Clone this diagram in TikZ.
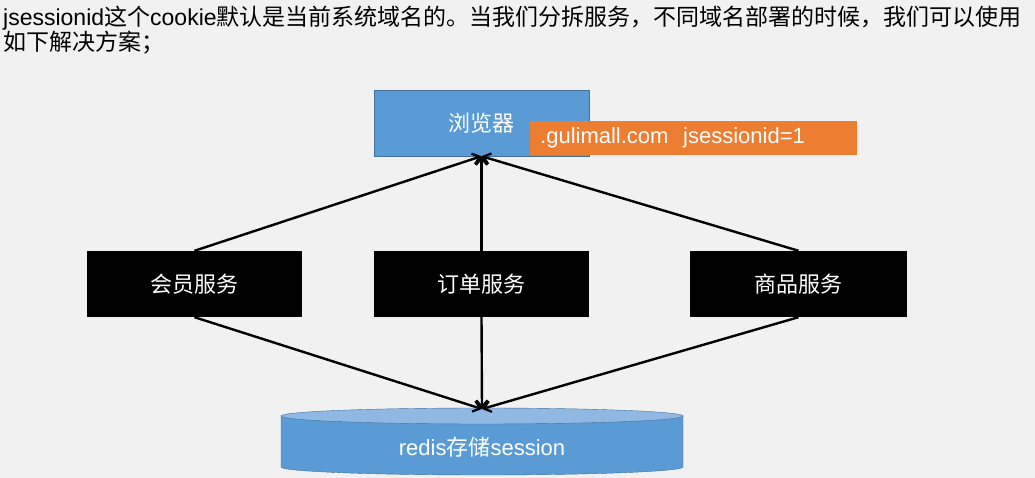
\documentclass[tikz,border=0pt]{standalone}
\usepackage{fontspec}
\setmainfont{Liberation Sans}
\newfontfamily\cjk{Noto Sans CJK SC}
\usetikzlibrary{positioning,arrows.meta}
\definecolor{pagegray}{HTML}{F1F1F1}
\definecolor{boxblue}{HTML}{5B9BD5}
\definecolor{blueedge}{HTML}{41719C}
\definecolor{cyltop}{HTML}{8FB9E3}
\definecolor{cookieorange}{HTML}{ED7D31}

\begin{document}
\begin{tikzpicture}[x=1pt,y=1pt,
						titletext/.style={anchor=base west, inner sep=0pt, font=\fontsize{23}{25}\selectfont},
						browserbox/.style={draw=blueedge, fill=boxblue, minimum width=215pt, minimum height=66pt, text=white, font=\fontsize{22}{22}\cjk},
						servicebox/.style={fill=black, minimum width=215pt, minimum height=66pt, text=white, font=\fontsize{22}{22}\cjk},
						cookiebox/.style={fill=cookieorange, inner xsep=10pt, text width=307pt, align=left, minimum height=34pt, text=white, font=\fontsize{22}{22}\selectfont},
						link/.style={->, line width=2.4pt},
						>={Straight Barb[length=7pt, width=11pt, line width=2.2pt]}]
					\useasboundingbox[fill=pagegray] (0,0) rectangle (1035,478);
					\node[titletext] (title1) at (3,452)
						{jsessionid{\cjk 这个}cookie{\cjk 默认是当前系统域名的。当我们分拆服务，不同域名部署的时候，我们可以使用}};
					\node[titletext] (title2) at (3,427) {\cjk 如下解决方案；};
					
					\node[browserbox] (browser) at (481.5,355) {浏览器};
					\node[cookiebox, anchor=west] (cookie) at (530,340) {.gulimall.com\ \ jsessionid=1};
					
					\node[servicebox] (order) at (481.5,194) {订单服务};
					\node[servicebox, left=287pt of order.center, anchor=center] (member) {会员服务};
					\node[servicebox, right=317pt of order.center, anchor=center, minimum width=217pt] (product) {商品服务};
					
					% redis cylinder
					\path[fill=boxblue, draw=blueedge] (281,62) -- (281,11) arc[start angle=180, end angle=360, x radius=201, y radius=8] -- (683,62) -- cycle;
					\draw[fill=cyltop, draw=blueedge] (482,62) ellipse[x radius=201, y radius=8];
					\node[text=white, font=\fontsize{22}{22}\selectfont] (redis) at (482,31) {redis{\cjk 存储}session};
					\coordinate (redistop) at (482,69);
					
					\draw[link] (member.north) -- (browser.south);
					\draw[link] (order.north) -- (browser.south);
					\draw[link] (product.north) -- (browser.south);
					
					\draw[link] (member.south) -- (redistop);
					\draw[link] (order.south) -- (redistop);
					\draw[link] (product.south) -- (redistop);
				\end{tikzpicture}
\end{document}
